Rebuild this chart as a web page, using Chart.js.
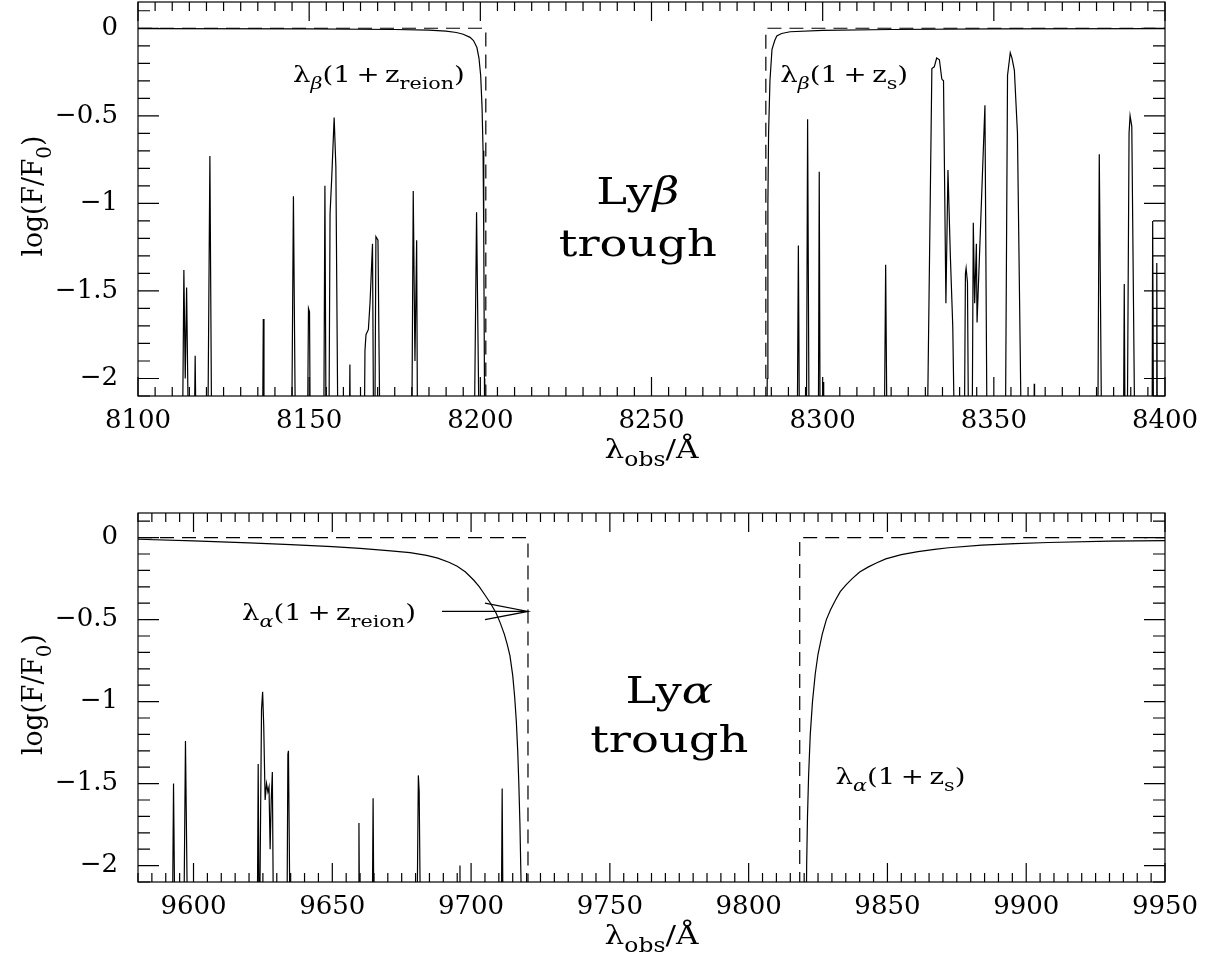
<!DOCTYPE html>
<html>
<head>
<meta charset="utf-8">
<script src="https://cdn.jsdelivr.net/npm/chart.js@4.4.1/dist/chart.umd.min.js"></script>
<style>
body { margin: 0; background: #fff; }
#wrap { position: relative; width: 1213px; height: 973px; }
canvas { position: absolute; left: 0; }
</style>
</head>
<body>
<div id="wrap">
<canvas id="lyb" width="1213" height="486" style="top:0"></canvas>
<canvas id="lya" width="1213" height="487" style="top:486px"></canvas>
</div>
<script>
// 吸収のない所は F = -2.6 (軸の下なので切り取られる)
const F = -2.6;

// 軸の範囲と目盛り
const lybRange = [8100, 8400];
const lyaRange = [9580, 9950];
const fluxRange = [-2.1, 0.15];
const lybTicks = [8100, 8150, 8200, 8250, 8300, 8350, 8400];
const lyaTicks = [9600, 9650, 9700, 9750, 9800, 9850, 9900, 9950];
const fluxTicks = [0, -0.5, -1, -1.5, -2];
const fluxTickLabels = ['0', '\u22120.5', '\u22121', '\u22121.5', '\u22122'];

// Lyβ パネル: 吸収なしの段差 (破線)
const lybStep = [[8100, 0], [8201.6, 0], [8201.6, F], [8283.4, F], [8283.4, 0], [8400, 0]];
// Lyβ パネル: 減衰翼 (左と右)
const lybWingLeft = [[8100, -0.002], [8150, -0.004], [8175, -0.007], [8185, -0.011], [8190, -0.016],
  [8193, -0.024], [8195, -0.034], [8197, -0.052], [8198, -0.07], [8199, -0.11], [8199.6, -0.17],
  [8200.1, -0.27], [8200.5, -0.45], [8200.8, -0.7], [8201.0, -1.2], [8201.2, -2.0], [8201.3, F]];
const lybWingRight = [[8283.7, F], [8283.8, -2.0], [8284.0, -1.0], [8284.2, -0.6], [8284.6, -0.3],
  [8285.2, -0.12], [8286.0, -0.07], [8286.6, -0.044], [8288, -0.03], [8290.5, -0.02], [8300, -0.012],
  [8320, -0.007], [8350, -0.004], [8400, -0.002]];
// Lyβ パネル: 透過スパイク
const lybSpikes = [
  [8112.9, F], [8113.4, -1.38], [8113.8, -2.0], [8114.2, -1.48], [8114.9, F],
  [8116.3, F], [8116.7, -1.87], [8117.1, F],
  [8120.3, F], [8121.0, -0.73], [8121.6, F],
  [8136.3, F], [8136.6, -1.66], [8136.8, F],
  [8144.8, F], [8145.4, -0.96], [8146.1, F],
  [8149.4, F], [8149.8, -1.60], [8150.1, -1.62], [8150.4, F],
  [8154.2, F], [8154.6, -0.90], [8155.0, F],
  [8155.7, F], [8156.1, -1.06], [8156.6, -0.85], [8157.3, -0.51], [8157.8, -0.79], [8158.5, F],
  [8161.6, F], [8161.9, -1.92], [8162.1, F],
  [8166.0, F], [8166.3, -1.84], [8166.6, -1.75], [8167.3, -1.72], [8167.8, -1.56], [8168.5, -1.23], [8168.9, F],
  [8169.1, F], [8169.5, -1.19], [8170.1, -1.21], [8170.8, F],
  [8179.9, F], [8180.4, -0.93], [8180.9, -1.9], [8181.4, -1.21], [8181.7, F],
  [8198.1, F], [8198.9, -1.05], [8199.8, F],
  [8292.5, F], [8292.9, -1.24], [8293.3, F],
  [8295.2, F], [8295.6, -0.52], [8296.1, F],
  [8298.7, F], [8299.0, -0.82], [8299.3, F],
  [8300.0, F], [8300.1, -2.02], [8300.3, F],
  [8317.9, F], [8318.4, -1.35], [8318.9, F],
  [8330.4, F], [8331.9, -0.23], [8332.6, -0.22], [8333.3, -0.17], [8334.1, -0.18], [8334.8, -0.29],
  [8335.3, -0.30], [8336.0, -1.57], [8336.6, -0.81], [8337.3, -1.3], [8338.0, -1.7], [8338.7, F],
  [8341.3, F], [8341.7, -1.40], [8341.9, -1.37], [8342.3, -1.45], [8342.7, F],
  [8343.6, F], [8344.0, -1.11], [8344.4, -1.57], [8344.9, -1.23], [8345.1, -1.68], [8347.4, -0.44], [8348.1, F],
  [8353.3, F], [8354.0, -0.27], [8354.8, -0.14], [8355.3, -0.17], [8356.0, -0.24], [8356.9, -0.60], [8358.2, F],
  [8361.7, F], [8361.8, -2.03], [8361.9, F],
  [8380.3, F], [8380.8, -0.72], [8381.6, F],
  [8387.8, F], [8388.1, -1.46], [8388.4, F],
  [8388.9, F], [8389.5, -0.60], [8389.8, -0.50], [8390.3, -0.56], [8391.3, F],
  [8396.2, F], [8396.4, -1.10], [8396.7, F],
  [8397.4, F], [8397.6, -1.34], [8397.8, F]
];

// Lyα パネル
const lyaStep = [[9580, 0], [9720.5, 0], [9720.5, F], [9818.4, F], [9818.4, 0], [9950, 0]];
const lyaWingLeft = [[9580, -0.01], [9600, -0.02], [9620, -0.032], [9635, -0.043], [9650, -0.055],
  [9660, -0.066], [9670, -0.079], [9678, -0.092], [9684, -0.108], [9688, -0.125], [9692, -0.15],
  [9695, -0.175], [9698, -0.21], [9701, -0.26], [9703, -0.30], [9705, -0.35], [9707, -0.40],
  [9709, -0.46], [9710.5, -0.52], [9712, -0.59], [9713, -0.65], [9714, -0.72], [9715, -0.84],
  [9715.7, -0.97], [9716.3, -1.12], [9716.8, -1.3], [9717.2, -1.5], [9717.6, -1.75], [9718, -2.1], [9718.3, F]];
const lyaWingRight = [[9820.6, F], [9820.9, -2.0], [9821.2, -1.7], [9821.6, -1.45], [9822.2, -1.2],
  [9823, -1.0], [9824, -0.83], [9825, -0.71], [9826.5, -0.59], [9828, -0.50], [9829.5, -0.44],
  [9831.3, -0.38], [9833, -0.33], [9835, -0.29], [9837.3, -0.25], [9840, -0.21], [9843, -0.18],
  [9846, -0.155], [9849.4, -0.13], [9855, -0.104], [9861, -0.085], [9867, -0.072], [9872, -0.062],
  [9884, -0.046], [9896, -0.037], [9908, -0.03], [9930, -0.022], [9950, -0.018]];
const lyaSpikes = [
  [9592.3, F], [9592.8, -1.50], [9593.4, F],
  [9596.4, F], [9597.1, -1.24], [9598.0, F],
  [9622.9, F], [9623.3, -1.38], [9623.7, F],
  [9623.9, F], [9624.5, -1.05], [9624.9, -0.94], [9625.3, -1.15], [9625.8, -1.60], [9626.3, -1.50],
  [9626.8, -1.55], [9627.2, -1.52], [9627.6, -1.9], [9628.0, -1.6], [9628.4, -1.43], [9628.9, F],
  [9633.6, F], [9634.0, -1.32], [9634.2, -1.30], [9634.9, F],
  [9659.3, F], [9659.6, -1.74], [9659.9, F],
  [9664.3, F], [9664.7, -1.59], [9665.1, F],
  [9680.4, F], [9681.0, -1.45], [9681.3, -1.55], [9681.9, F],
  [9695.9, F], [9696.0, -2.0], [9696.1, F],
  [9710.8, F], [9711.2, -1.53], [9711.6, F]
];

const SERIF = '"DejaVu Serif"';

// 上付き・下付きのある文字列を描く
function rich(ctx, x, y, segs, size, opt = {}) {
  const parts = segs.map(([t, k = '']) => {
    const sub = k.includes('sub');
    const it = k.startsWith('i');
    const s = sub ? size * 0.75 : size;
    const f = (it ? 'italic ' : '') + s + 'px ' + SERIF;
    ctx.font = f;
    return { t, f, w: ctx.measureText(t).width, dy: sub ? size * 0.32 : 0 };
  });
  const total = parts.reduce((s, p) => s + p.w, 0);
  ctx.save();
  ctx.translate(x, y);
  if (opt.rotate) ctx.rotate(opt.rotate);
  ctx.scale(opt.stretch || 1, 1);
  let cx = opt.align === 'center' ? -total / 2 : 0;
  ctx.textAlign = 'left';
  ctx.textBaseline = 'alphabetic';
  ctx.fillStyle = '#000';
  for (const p of parts) {
    ctx.font = p.f;
    ctx.fillText(p.t, cx, p.dy);
    cx += p.w;
  }
  ctx.restore();
}

// 枠、内向きの目盛り、軸タイトル、注記
const framePlugin = {
  id: 'frame',
  afterDatasetsDraw(chart) {
    const { ctx, chartArea: a, scales: { x, y } } = chart;
    const o = chart.options.plugins.frame;
    ctx.save();
    ctx.strokeStyle = '#000';
    ctx.lineWidth = 1.2;
    ctx.strokeRect(a.left, a.top, a.right - a.left, a.bottom - a.top);
    ctx.beginPath();
    for (let v = Math.ceil(x.min / 5) * 5; v <= x.max; v += 5) {
      const px = x.getPixelForValue(v);
      const len = v % 50 === 0 ? 19 : 9;
      ctx.moveTo(px, a.bottom); ctx.lineTo(px, a.bottom - len);
      ctx.moveTo(px, a.top); ctx.lineTo(px, a.top + len);
    }
    for (let i = Math.ceil(y.min * 10); i <= Math.floor(y.max * 10); i++) {
      const py = y.getPixelForValue(i / 10);
      const len = i % 5 === 0 ? 21 : 12;
      ctx.moveTo(a.left, py); ctx.lineTo(a.left + len, py);
      ctx.moveTo(a.right, py); ctx.lineTo(a.right - len, py);
    }
    ctx.stroke();

    // 軸タイトル
    rich(ctx, (a.left + a.right) / 2, a.bottom + 62,
      [['\u03bb'], ['obs', 'sub'], ['/\u00c5']], 26, { align: 'center', stretch: 1.2 });
    rich(ctx, 42, (a.top + a.bottom) / 2 - 3,
      [['log(F/F'], ['0', 'sub'], [')']], 28, { align: 'center', rotate: -Math.PI / 2, stretch: 0.95 });

    // 注記
    for (const n of o.notes) {
      rich(ctx, x.getPixelForValue(n.x), y.getPixelForValue(n.y), n.segs, n.size,
        { align: n.align, stretch: n.stretch });
    }
    if (o.arrow) {
      const ar = o.arrow;
      const tip = x.getPixelForValue(ar.to), py = y.getPixelForValue(ar.y);
      const tail = x.getPixelForValue(ar.from), hb = x.getPixelForValue(ar.to - ar.head);
      const hw = Math.abs(y.getPixelForValue(ar.y + ar.spread) - py);
      ctx.lineWidth = 1.2;
      ctx.beginPath();
      ctx.moveTo(tail, py); ctx.lineTo(tip, py);
      ctx.moveTo(hb, py - hw); ctx.lineTo(tip, py); ctx.lineTo(hb, py + hw);
      ctx.stroke();
    }
    ctx.restore();
  }
};

function pts(arr) { return arr.map(([x, y]) => ({ x, y })); }

function line(arr, dash) {
  return {
    data: pts(arr), borderColor: '#000', borderWidth: 1.2, borderDash: dash || [],
    pointRadius: 0, fill: false, tension: 0
  };
}

function makeChart(id, range, ticks, step, wings, spikes, padTop, xHeight, notes, arrow) {
  const tickFont = { family: SERIF, size: 26 };
  return new Chart(document.getElementById(id), {
    type: 'line',
    data: {
      datasets: [line(step, [14, 8]), line(wings[0]), line(wings[1]), line(spikes)]
    },
    options: {
      responsive: false,
      animation: false,
      layout: { padding: { top: padTop, right: 48, left: 0, bottom: 0 } },
      plugins: {
        legend: { display: false },
        tooltip: { enabled: false },
        frame: { notes, arrow }
      },
      scales: {
        x: {
          type: 'linear', min: range[0], max: range[1],
          border: { display: false },
          grid: { display: false, drawTicks: false },
          ticks: { font: tickFont, color: '#000', padding: 10, maxRotation: 0, autoSkip: false,
            callback: v => String(v) },
          afterBuildTicks: s => { s.ticks = ticks.map(v => ({ value: v })); },
          afterFit: s => { s.height = xHeight; s.paddingLeft = 0; s.paddingRight = 0; }
        },
        y: {
          min: fluxRange[0], max: fluxRange[1],
          border: { display: false },
          grid: { display: false, drawTicks: false },
          ticks: { font: tickFont, color: '#000', padding: 20,
            callback: v => fluxTickLabels[fluxTicks.indexOf(v)] },
          afterBuildTicks: s => { s.ticks = fluxTicks.map(v => ({ value: v })); },
          afterFit: s => { s.width = 138; s.paddingTop = 0; s.paddingBottom = 0; }
        }
      }
    },
    plugins: [framePlugin]
  });
}

const bigFont = 38;
const noteFont = 23;
makeChart('lyb', lybRange, lybTicks, lybStep, [lybWingLeft, lybWingRight], lybSpikes, 2, 90, [
  { x: 8145.3, y: -0.305, segs: [['\u03bb'], ['\u03b2', 'isub'], ['(1\u2009+\u2009z'], ['reion', 'sub'], [')']], size: noteFont, stretch: 1.2 },
  { x: 8287.6, y: -0.305, segs: [['\u03bb'], ['\u03b2', 'isub'], ['(1\u2009+\u2009z'], ['s', 'sub'], [')']], size: noteFont, stretch: 1.2 },
  { x: 8246, y: -1.006, segs: [['Ly'], ['\u03b2', 'i']], size: bigFont, align: 'center', stretch: 1.22 },
  { x: 8246, y: -1.30, segs: [['trough']], size: bigFont, align: 'center', stretch: 1.22 }
], null);

makeChart('lya', lyaRange, lyaTicks, lyaStep, [lyaWingLeft, lyaWingRight], lyaSpikes, 27, 91, [
  { x: 9617.5, y: -0.50, segs: [['\u03bb'], ['\u03b1', 'isub'], ['(1\u2009+\u2009z'], ['reion', 'sub'], [')']], size: noteFont, stretch: 1.2 },
  { x: 9831.3, y: -1.50, segs: [['\u03bb'], ['\u03b1', 'isub'], ['(1\u2009+\u2009z'], ['s', 'sub'], [')']], size: noteFont, stretch: 1.2 },
  { x: 9771.4, y: -1.01, segs: [['Ly'], ['\u03b1', 'i']], size: bigFont, align: 'center', stretch: 1.22 },
  { x: 9771.4, y: -1.305, segs: [['trough']], size: bigFont, align: 'center', stretch: 1.22 }
], { from: 9689.5, to: 9720.5, y: -0.45, head: 15.5, spread: 0.05 });
</script>
</body>
</html>
